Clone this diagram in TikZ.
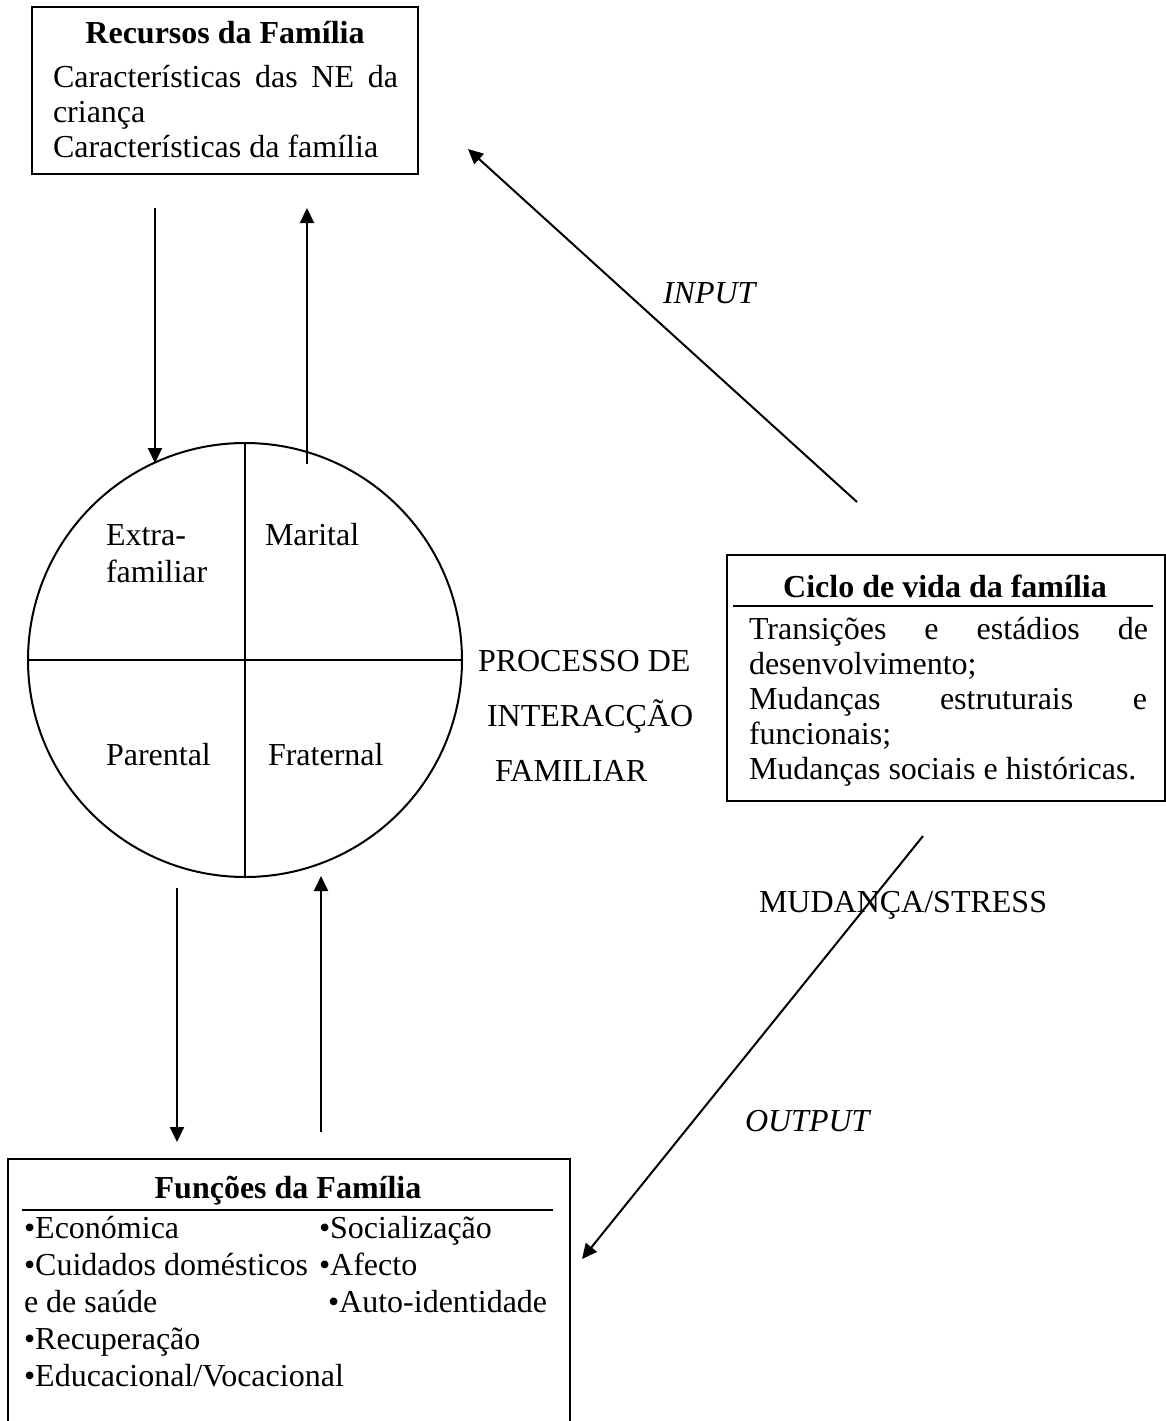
\documentclass[tikz,border=0pt]{standalone}
\usepackage{fontspec}
\setmainfont{Liberation Serif}
\usetikzlibrary{arrows.meta}
\begin{document}
\begin{tikzpicture}[x=1pt,y=-1pt,
  every node/.style={inner sep=0pt, outer sep=0pt},
  txt/.style={anchor=base west, font=\fontsize{32}{36}\selectfont},
  itx/.style={anchor=base west, font=\fontsize{32}{36}\selectfont\itshape},
  ttl/.style={anchor=base, font=\fontsize{32}{36}\selectfont\bfseries},
  frame/.style={draw, line width=2.3pt, anchor=north west},
  ln/.style={line width=2pt},
  arr/.style={line width=2pt, -{Triangle[length=15pt,width=14pt]}}]
\useasboundingbox (0,0) rectangle (1166,1421);
\clip (0,0) rectangle (1166,1421);

% ---------- top box: Recursos da Família ----------
\node[frame, minimum width=386pt, minimum height=167pt] (res) at (32,7) {};
\node[ttl] (resT) at (225,44) {Recursos da Família};
\node[txt] (res1) at (53,88) {\makebox[345pt][s]{Características das NE da}};
\node[txt] (res2) at (53,122) {criança};
\node[txt] (res3) at (53,157) {Características da família};

% ---------- circle ----------
\node[circle, draw, line width=2pt, minimum size=434pt] (circ) at (245,660) {};
\draw[ln] (circ.north) -- (circ.south);
\draw[ln] (circ.west) -- (circ.east);
\node[txt] (cExtra) at (106,545) {Extra-};
\node[txt] (cFam) at (106,582) {familiar};
\node[txt] (cMar) at (265,545) {Marital};
\node[txt] (cPar) at (106,765) {Parental};
\node[txt] (cFra) at (268,765) {Fraternal};

\node[txt] (pr1) at (478,671) {PROCESSO DE};
\node[txt] (pr2) at (487,726) {INTERACÇÃO};
\node[txt] (pr3) at (495,781) {FAMILIAR};

% ---------- right box: Ciclo de vida ----------
\node[frame, minimum width=438pt, minimum height=246pt] (cic) at (727,555) {};
\node[ttl] (cicT) at (945,597) {Ciclo de vida da família};
\draw[ln] (733,606) -- (1153,606);
\node[txt] (cic1) at (749,639) {\makebox[399pt][s]{Transições e estádios de}};
\node[txt] (cic2) at (749,674) {desenvolvimento;};
\node[txt] (cic3) at (749,709) {\makebox[398pt][s]{Mudanças estruturais e}};
\node[txt] (cic4) at (749,744) {funcionais;};
\node[txt] (cic5) at (749,779) {Mudanças sociais e históricas.};

% ---------- bottom box: Funções ----------
\node[frame, minimum width=562pt, minimum height=300pt] (fun) at (8,1159) {};
\node[ttl] (funT) at (288,1198) {Funções da Família};
\draw[ln] (22,1210) -- (553,1210);
\node[txt] (f1) at (24,1238) {•Económica};
\node[txt] (f2) at (319,1238) {•Socialização};
\node[txt] (f3) at (24,1275) {•Cuidados domésticos};
\node[txt] (f4) at (319,1275) {•Afecto};
\node[txt] (f5) at (24,1312) {e de saúde};
\node[txt] (f6) at (328,1312) {•Auto-identidade};
\node[txt] (f7) at (24,1349) {•Recuperação};
\node[txt] (f8) at (24,1386) {•Educacional/Vocacional};

% ---------- labels ----------
\node[itx] (lin) at (663,303) {INPUT};
\node[txt] (lmud) at (759,912) {MUDANÇA/STRESS};
\node[itx] (lout) at (745,1131) {OUTPUT};

% ---------- arrows ----------
\coordinate (a1s) at (155,208); \coordinate (a1e) at (155,463);
\coordinate (a2s) at (307,464); \coordinate (a2e) at (307,208);
\coordinate (a3s) at (177,888); \coordinate (a3e) at (177,1142);
\coordinate (a4s) at (321,1132); \coordinate (a4e) at (321,876);
\coordinate (ins) at (857,502); \coordinate (ine) at (468,149);
\coordinate (outs) at (923,836); \coordinate (oute) at (582,1259);
\draw[arr] (a1s) -- (a1e);
\draw[arr] (a2s) -- (a2e);
\draw[arr] (a3s) -- (a3e);
\draw[arr] (a4s) -- (a4e);
\draw[arr] (ins) -- (ine);
\draw[arr] (outs) -- (oute);
\end{tikzpicture}
\end{document}
